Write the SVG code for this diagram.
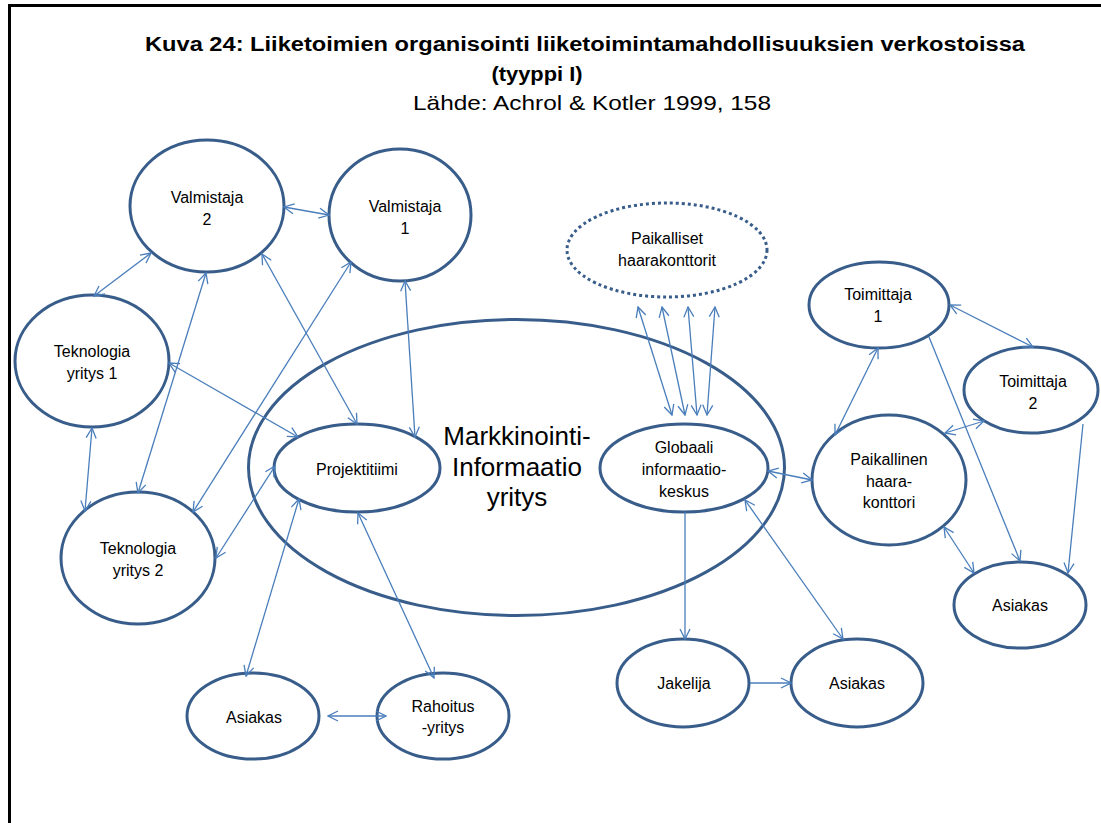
<svg xmlns="http://www.w3.org/2000/svg" width="1101" height="823" viewBox="0 0 1101 823">
  <style>
    .node { fill: #ffffff; stroke: #385D8A; stroke-width: 3; }
    .dotted { fill: #ffffff; stroke: #385D8A; stroke-width: 3; stroke-dasharray: 3 3; }
    .lbl { font-family: "Liberation Sans", Arial, sans-serif; font-size: 16px; fill: #000000; text-anchor: middle; }
    .big { font-family: "Liberation Sans", Arial, sans-serif; font-size: 26px; fill: #000000; text-anchor: middle; }
    .title { font-family: "Liberation Sans", Arial, sans-serif; font-size: 20px; font-weight: bold; fill: #000000; text-anchor: middle; }
    .sub { font-family: "Liberation Sans", Arial, sans-serif; font-size: 21px; fill: #000000; text-anchor: middle; }
    .edge { stroke: #4A7EBB; stroke-width: 1.3; fill: none; }
    .both { marker-start: url(#head); marker-end: url(#head); }
    .one { marker-end: url(#head); }
  </style>
  <defs>
    <marker id="head" viewBox="0 0 12 12" refX="11" refY="6" markerWidth="12" markerHeight="12" markerUnits="userSpaceOnUse" orient="auto-start-reverse">
      <path d="M1,1 L11,6 L1,11" fill="none" stroke="#4A7EBB" stroke-width="1.3"/>
    </marker>
  </defs>

  <rect width="1101" height="823" fill="#ffffff"/>
  <!-- page frame -->
  <path d="M9.5,823 L9.5,5.5 L1101,5.5" fill="none" stroke="#000000" stroke-width="3"/>

  <!-- heading -->
  <g id="heading">
    <text class="title" x="585" y="51" textLength="880" lengthAdjust="spacingAndGlyphs">Kuva 24: Liiketoimien organisointi liiketoimintamahdollisuuksien verkostoissa</text>
    <text class="title" x="537" y="81" textLength="91" lengthAdjust="spacingAndGlyphs">(tyyppi I)</text>
    <text class="sub" x="592" y="110" textLength="358" lengthAdjust="spacingAndGlyphs">Lähde: Achrol &amp; Kotler 1999, 158</text>
  </g>

  <!-- enclosing company -->
  <g id="markkinointi">
    <ellipse class="node" cx="516.5" cy="467.5" rx="268" ry="148"/>
    <text class="big" x="517" y="445">Markkinointi-</text>
    <text class="big" x="517" y="476">Informaatio</text>
    <text class="big" x="517" y="506">yritys</text>
  </g>

  <g id="valmistaja2">
    <ellipse class="node" cx="207" cy="206" rx="77" ry="66"/>
    <text class="lbl" x="207" y="203">Valmistaja</text>
    <text class="lbl" x="207" y="225">2</text>
  </g>
  <g id="valmistaja1">
    <ellipse class="node" cx="400" cy="215" rx="71" ry="66"/>
    <text class="lbl" x="405" y="212">Valmistaja</text>
    <text class="lbl" x="405" y="234">1</text>
  </g>
  <g id="teknologia1">
    <ellipse class="node" cx="92" cy="361" rx="77" ry="66"/>
    <text class="lbl" x="92" y="357">Teknologia</text>
    <text class="lbl" x="92" y="379">yritys 1</text>
  </g>
  <g id="teknologia2">
    <ellipse class="node" cx="138" cy="558" rx="77" ry="66"/>
    <text class="lbl" x="138" y="554">Teknologia</text>
    <text class="lbl" x="138" y="576">yritys 2</text>
  </g>
  <g id="projektitiimi">
    <ellipse class="node" cx="357" cy="468" rx="83" ry="44"/>
    <text class="lbl" x="357" y="475">Projektitiimi</text>
  </g>
  <g id="asiakas-vasen">
    <ellipse class="node" cx="253" cy="716" rx="66" ry="43"/>
    <text class="lbl" x="254" y="723">Asiakas</text>
  </g>
  <g id="rahoitus">
    <ellipse class="node" cx="443" cy="716" rx="66" ry="43"/>
    <text class="lbl" x="443" y="712">Rahoitus</text>
    <text class="lbl" x="443" y="733">-yritys</text>
  </g>
  <g id="paikalliset">
    <ellipse class="dotted" cx="667" cy="250" rx="100" ry="47"/>
    <text class="lbl" x="667" y="244">Paikalliset</text>
    <text class="lbl" x="667" y="266">haarakonttorit</text>
  </g>
  <g id="globaali">
    <ellipse class="node" cx="684" cy="468" rx="84" ry="44"/>
    <text class="lbl" x="684" y="453">Globaali</text>
    <text class="lbl" x="684" y="475">informaatio-</text>
    <text class="lbl" x="684" y="497">keskus</text>
  </g>
  <g id="toimittaja1">
    <ellipse class="node" cx="879" cy="305" rx="70" ry="43"/>
    <text class="lbl" x="878" y="300">Toimittaja</text>
    <text class="lbl" x="878" y="322">1</text>
  </g>
  <g id="toimittaja2">
    <ellipse class="node" cx="1031" cy="390" rx="67" ry="43"/>
    <text class="lbl" x="1033" y="387">Toimittaja</text>
    <text class="lbl" x="1033" y="409">2</text>
  </g>
  <g id="paikallinen">
    <ellipse class="node" cx="889" cy="480" rx="77" ry="65"/>
    <text class="lbl" x="889" y="465">Paikallinen</text>
    <text class="lbl" x="889" y="487">haara-</text>
    <text class="lbl" x="889" y="508">konttori</text>
  </g>
  <g id="asiakas-oikea">
    <ellipse class="node" cx="1020" cy="605" rx="66" ry="43"/>
    <text class="lbl" x="1020" y="611">Asiakas</text>
  </g>
  <g id="jakelija">
    <ellipse class="node" cx="683" cy="683" rx="66" ry="44"/>
    <text class="lbl" x="684" y="689">Jakelija</text>
  </g>
  <g id="asiakas-keski">
    <ellipse class="node" cx="857" cy="683" rx="66" ry="44"/>
    <text class="lbl" x="857" y="689">Asiakas</text>
  </g>

  <!-- connectors, drawn above the nodes so arrowheads stay visible -->
  <g id="connectors">
    <line class="edge both" x1="284" y1="207" x2="329" y2="215"/>
    <line class="edge both" x1="151" y1="253" x2="94" y2="296"/>
    <line class="edge both" x1="206" y1="273" x2="138" y2="493"/>
    <line class="edge both" x1="262" y1="254" x2="357" y2="424"/>
    <line class="edge both" x1="351" y1="262" x2="193" y2="512"/>
    <line class="edge both" x1="405" y1="281" x2="415" y2="437"/>
    <line class="edge both" x1="169" y1="363" x2="298" y2="437"/>
    <line class="edge both" x1="92" y1="428" x2="85" y2="511"/>
    <line class="edge both" x1="275" y1="466" x2="216" y2="558"/>
    <line class="edge both" x1="299" y1="499" x2="246" y2="676"/>
    <line class="edge both" x1="358" y1="513" x2="434" y2="678"/>
    <line class="edge both" x1="328" y1="716" x2="386" y2="716"/>
    <line class="edge both" x1="638" y1="307" x2="672" y2="415"/>
    <line class="edge both" x1="662" y1="307" x2="685" y2="415"/>
    <line class="edge both" x1="688" y1="307" x2="697" y2="415"/>
    <line class="edge both" x1="715" y1="307" x2="707" y2="415"/>
    <line class="edge both" x1="768" y1="471" x2="812" y2="480"/>
    <line class="edge both" x1="835" y1="435" x2="878" y2="348"/>
    <line class="edge both" x1="950" y1="305" x2="1033" y2="347"/>
    <line class="edge both" x1="945" y1="433" x2="984" y2="421"/>
    <line class="edge one" x1="929" y1="337" x2="1020" y2="561"/>
    <line class="edge one" x1="1083" y1="424" x2="1068" y2="573"/>
    <line class="edge both" x1="944" y1="527" x2="974" y2="573"/>
    <line class="edge one" x1="685" y1="512" x2="685" y2="639"/>
    <line class="edge both" x1="745" y1="500" x2="843" y2="639"/>
    <line class="edge one" x1="750" y1="683" x2="791" y2="683"/>
  </g>
</svg>
